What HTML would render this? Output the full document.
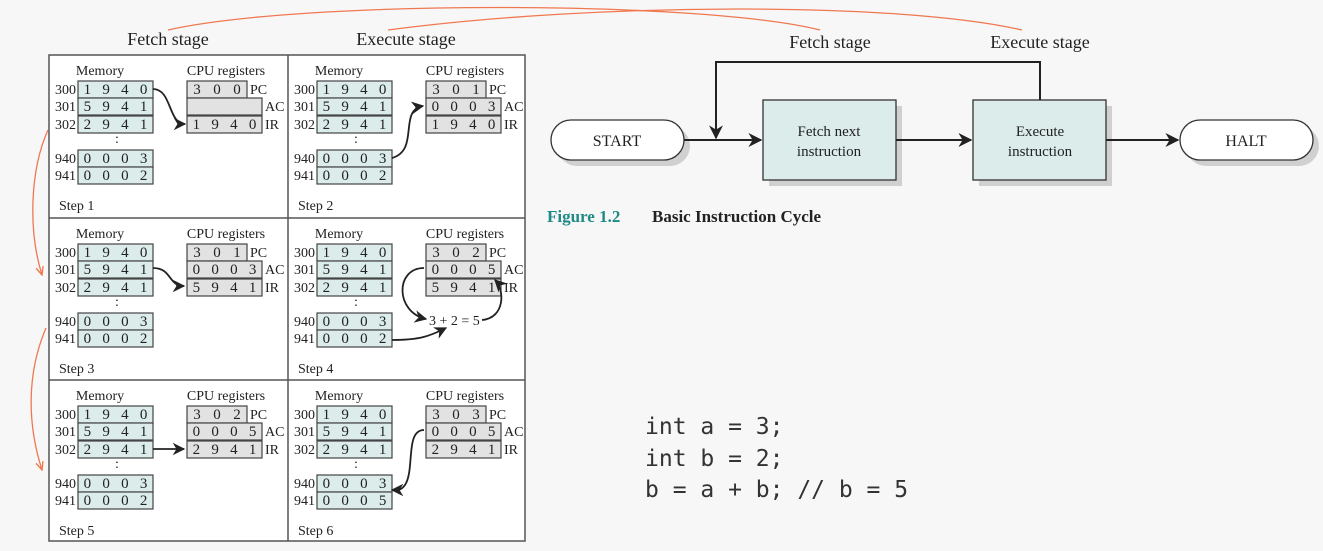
<!DOCTYPE html>
<html><head><meta charset="utf-8">
<style>
html,body{margin:0;padding:0;background:#f7f7f7;}
svg{display:block;}
.t{font-family:"Liberation Serif",serif;fill:#222;}
.m{font-family:"DejaVu Sans Mono","Liberation Mono",monospace;fill:#333;}
</style></head>
<body>
<svg id="s" width="1323" height="551" viewBox="0 0 1323 551" xmlns="http://www.w3.org/2000/svg">
<defs>
<marker id="ah" viewBox="0 0 10 10" refX="9" refY="5" markerWidth="7" markerHeight="7" orient="auto"><path d="M0,0 L10,5 L0,10 L3,5 z" fill="#222"/></marker>
<marker id="oh" viewBox="0 0 10 10" refX="9" refY="5" markerWidth="7" markerHeight="7" orient="auto"><path d="M0,1 L9,5 L0,9" fill="none" stroke="#f07850" stroke-width="1.5"/></marker>
</defs>
<rect x="0" y="0" width="1323" height="551" fill="#f7f7f7"/>
<g id="left">
<rect x="49" y="55" width="476" height="486" fill="#fff" stroke="#555" stroke-width="1.5"/>
<line x1="288" y1="55" x2="288" y2="541" stroke="#555" stroke-width="1.5"/>
<line x1="49" y1="218" x2="525" y2="218" stroke="#555" stroke-width="1.5"/>
<line x1="49" y1="380" x2="525" y2="380" stroke="#555" stroke-width="1.5"/>
</g>
<text class="t" x="168" y="45" font-size="18" text-anchor="middle">Fetch stage</text>
<text class="t" x="406" y="45" font-size="18" text-anchor="middle">Execute stage</text>
<path d="M168,30 C300,0 700,0 820,30" fill="none" stroke="#f07850" stroke-width="1.3"/>
<path d="M388,30 C600,2 900,2 1022,30" fill="none" stroke="#f07850" stroke-width="1.3"/>
<path d="M48,130 C30,170 28,230 42,275" fill="none" stroke="#f07850" stroke-width="1.3" marker-end="url(#oh)"/>
<path d="M46,328 C28,370 26,420 42,470" fill="none" stroke="#f07850" stroke-width="1.3" marker-end="url(#oh)"/>

<text class="t" x="830" y="48" font-size="18" text-anchor="middle">Fetch stage</text>
<text class="t" x="1040" y="48" font-size="18" text-anchor="middle">Execute stage</text>
<rect x="557" y="126" width="133" height="40" rx="20" fill="#d0d0d0"/>
<rect x="551" y="120" width="133" height="40" rx="20" fill="#fff" stroke="#333" stroke-width="1.3"/>
<text class="t" x="617" y="146" font-size="16" text-anchor="middle">START</text>
<rect x="769" y="106" width="133" height="80" fill="#d0d0d0"/>
<rect x="763" y="100" width="133" height="80" fill="#dbeceb" stroke="#333" stroke-width="1.3"/>
<text class="t" x="829" y="136" font-size="15" text-anchor="middle">Fetch next</text>
<text class="t" x="829" y="156" font-size="15" text-anchor="middle">instruction</text>
<rect x="979" y="106" width="133" height="80" fill="#d0d0d0"/>
<rect x="973" y="100" width="133" height="80" fill="#dbeceb" stroke="#333" stroke-width="1.3"/>
<text class="t" x="1040" y="136" font-size="15" text-anchor="middle">Execute</text>
<text class="t" x="1040" y="156" font-size="15" text-anchor="middle">instruction</text>
<rect x="1186" y="126" width="133" height="40" rx="20" fill="#d0d0d0"/>
<rect x="1180" y="120" width="133" height="40" rx="20" fill="#fff" stroke="#333" stroke-width="1.3"/>
<text class="t" x="1246" y="146" font-size="16" text-anchor="middle">HALT</text>
<g stroke="#222" stroke-width="2" fill="none">
<line x1="684" y1="140" x2="761" y2="140" marker-end="url(#ah)"/>
<line x1="896" y1="140" x2="971" y2="140" marker-end="url(#ah)"/>
<line x1="1106" y1="140" x2="1178" y2="140" marker-end="url(#ah)"/>
<path d="M1040,100 L1040,62 L716,62 L716,138" marker-end="url(#ah)"/>
</g>
<text x="547" y="222" font-size="17" font-weight="bold" font-family="Liberation Serif,serif"><tspan fill="#1f8a86">Figure 1.2</tspan><tspan x="652" fill="#222">Basic Instruction Cycle</tspan></text>

<text class="m" x="645" y="434" font-size="23">int a = 3;</text>
<text class="m" x="645" y="466" font-size="23">int b = 2;</text>
<text class="m" x="645" y="497" font-size="23">b = a + b; // b = 5</text>
<g id="cells"></g>
</svg>
<script>
const NS='http://www.w3.org/2000/svg';
const steps=['Step 1','Step 2','Step 3','Step 4','Step 5','Step 6'];
const pcVals=['300','301','301','302','302','303'];
const acVals=['','0003','0003','0005','0005','0005'];
const irVals=['1940','1940','5941','5941','2941','2941'];
const m941=['0002','0002','0002','0002','0002','0005'];
const origins=[[49,55],[288,55],[49,218],[288,218],[49,380],[288,380]];
const g=document.getElementById('cells');
function el(tag,a,txt){const e=document.createElementNS(NS,tag);for(const k in a)e.setAttribute(k,a[k]);if(txt!==undefined)e.textContent=txt;g.appendChild(e);return e;}
function digits(x,y,w,s){const n=s.length;for(let i=0;i<n;i++){el('text',{class:'t',x:x+w*(i+0.5)/n,y:y+13,'font-size':15,'text-anchor':'middle'},s[i]);}}
steps.forEach((st,k)=>{
  const [ox,oy]=origins[k];
  const lab=el('text',{class:'t',x:ox+51,y:oy+20,'font-size':14,'text-anchor':'middle'},'Memory');
  
  
  el('text',{class:'t',x:ox+177,y:oy+20,'font-size':14,'text-anchor':'middle'},'CPU registers');
  const mem=[['300','1940',26],['301','5941',43],['302','2941',61],['940','0003',95],['941',m941[k],112]];
  mem.forEach(r=>{
    el('text',{class:'t',x:ox+6,y:oy+r[2]+13,'font-size':14},r[0]);
    const c=el('rect',{x:ox+29,y:oy+r[2],width:75,height:17,fill:'#dbeceb',stroke:'#444','stroke-width':1.2});
    
    
    digits(ox+29,oy+r[2],75,r[1]);
  });
  el('text',{class:'t',x:ox+68,y:oy+88,'font-size':14,'text-anchor':'middle'},':');
  const regs=[['PC',pcVals[k],26,60],['AC',acVals[k],43,75],['IR',irVals[k],61,75]];
  regs.forEach(r=>{
    const c=el('rect',{x:ox+138,y:oy+r[2],width:r[3],height:17,fill:'#e2e2e2',stroke:'#444','stroke-width':1.2});
    
    
    if(r[1])digits(ox+138,oy+r[2],r[3],r[1]);
    el('text',{class:'t',x:ox+138+r[3]+3,y:oy+r[2]+13,'font-size':14},r[0]);
  });
  const sl=el('text',{class:'t',x:ox+10,y:oy+155,'font-size':14},st);
  
  
});
function arrow(d){const p=el('path',{d:d,fill:'none',stroke:'#222','stroke-width':1.8,'marker-end':'url(#ah)'});}
arrow('M153,89 C172,89 168,124 185,124');
arrow('M392,158 C420,150 398,110 423,106');
arrow('M153,268 C172,268 168,286 184,286');
arrow('M392,340 C420,340 430,336 446,328');
arrow('M424,268 C395,268 395,312 426,319');
arrow('M482,320 C505,318 505,290 495,280');
arrow('M153,449 L184,449');
arrow('M424,430 C405,430 415,470 405,485 C400,492 395,490 392,490');
el('text',{class:'t',x:429,y:325,'font-size':14},'3 + 2 = 5');
</script>
</body></html>
